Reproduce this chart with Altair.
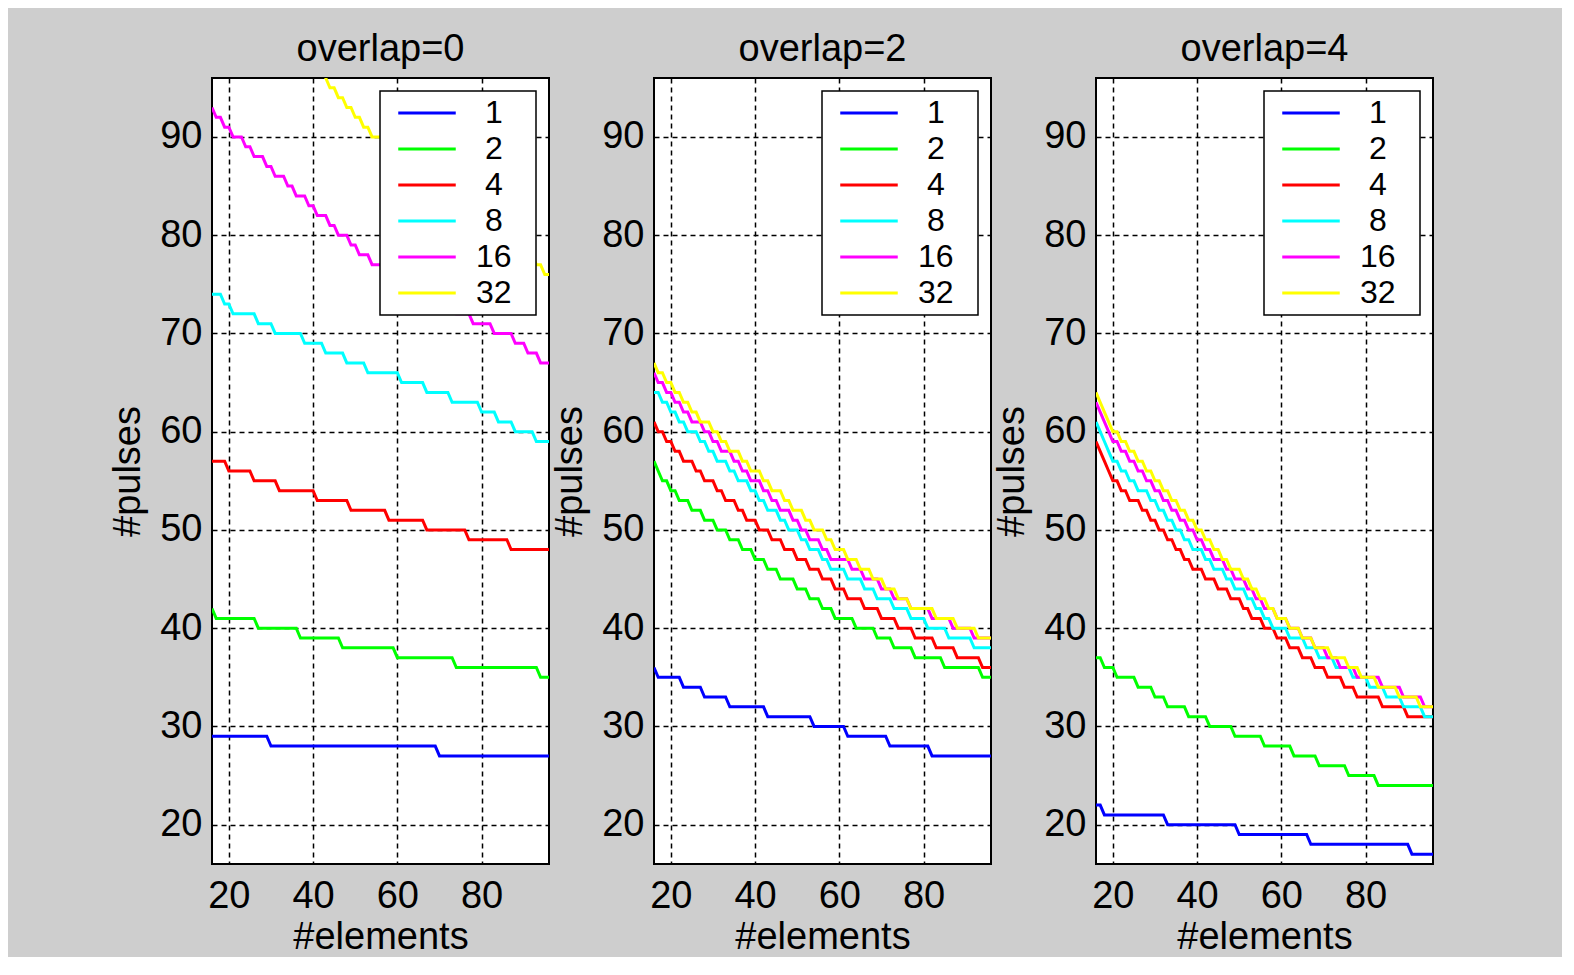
import altair as alt
import pandas as pd

# x range (#elements) and series names
X_FIRST, X_LAST = 16, 96
series_names = ["1", "2", "4", "8", "16", "32"]
series_colors = ["#0000ff", "#00ff00", "#ff0000", "#00ffff", "#ff00ff", "#ffff00"]
panel_titles = ["overlap=0", "overlap=2", "overlap=4"]
y_ticks = [20, 30, 40, 50, 60, 70, 80, 90]
x_ticks = [20, 40, 60, 80]

# Each series: #pulses at x=16 and the #elements values where it steps down by 1
# overlap = 0
ov0_start = [29, 42, 57, 74, 93, 110]
ov0_drops_1 = [30, 70]
ov0_drops_2 = [17, 27, 37, 47, 60, 74, 94]
ov0_drops_4 = [20, 26, 32, 41, 49, 58, 67, 77, 87]
ov0_drops_8 = [19, 21, 27, 31, 38, 43, 48, 53, 61, 67, 73, 80, 84, 88, 93]
ov0_drops_16 = [17, 19, 21, 24, 26, 29, 31, 34, 36, 39, 41, 44, 46, 49, 51, 54,
                58, 62, 66, 70, 74, 78, 83, 88, 91, 94]
ov0_drops_32 = [17, 19, 21, 23, 25, 27, 29, 31, 33, 35, 37, 39, 41, 43,
                44, 46, 48, 50, 52, 54, 57, 60, 63, 66, 69, 72, 75, 78,
                81, 84, 87, 90, 93, 95]

# overlap = 2
ov2_start = [36, 57, 61, 64, 66, 67]
ov2_drops_1 = [17, 23, 28, 34, 43, 54, 62, 72, 82]
ov2_drops_2 = [17, 18, 20, 22, 25, 28, 31, 34, 37, 40, 43, 46, 50, 53, 56, 59,
               64, 69, 73, 78, 85, 94]
ov2_drops_4 = [17, 19, 21, 23, 26, 28, 31, 33, 36, 38, 41, 44, 47, 50, 53, 56, 59,
               62, 66, 70, 74, 78, 83, 88, 94]
ov2_drops_8 = [18, 20, 22, 24, 27, 29, 31, 34, 36, 39, 41, 43, 46, 48, 51, 53, 56, 58,
               62, 66, 69, 73, 77, 81, 86, 92]
ov2_drops_16 = [17, 19, 21, 23, 25, 28, 30, 32, 35, 37, 39, 42, 44, 46, 49, 51, 53, 56, 58,
                63, 66, 70, 73, 77, 82, 87, 92]
ov2_drops_32 = [17, 19, 21, 23, 25, 27, 30, 32, 34, 37, 39, 42, 44, 47, 49, 52, 54, 57, 59,
                62, 65, 68, 71, 74, 77, 83, 88, 93]

# overlap = 4
ov4_start = [22, 37, 59, 61, 63, 64]
ov4_drops_1 = [18, 33, 50, 67, 91]
ov4_drops_2 = [18, 21, 26, 30, 33, 38, 43, 49, 56, 63, 69, 76, 83]
ov4_drops_4 = [17, 18, 19, 20, 22, 24, 27, 29, 31, 33, 35, 37, 39, 42, 45, 48, 51, 53, 56, 59,
               62, 65, 68, 71, 75, 78, 84, 90]
ov4_drops_8 = [17, 18, 19, 20, 22, 24, 26, 29, 31, 33, 35, 37, 39, 42, 44, 47, 49, 52, 54, 56, 58,
               62, 66, 69, 73, 77, 81, 85, 89, 94]
ov4_drops_16 = [17, 18, 19, 20, 22, 24, 26, 28, 30, 32, 34, 36, 38, 40, 42, 44, 47, 49, 52, 54, 56, 59,
                62, 65, 68, 71, 74, 78, 84, 89, 94]
ov4_drops_32 = [17, 18, 19, 20, 22, 24, 26, 28, 30, 32, 34, 36, 38, 40, 42, 44, 46, 48, 51, 53, 55, 57, 59,
                62, 65, 68, 72, 76, 79, 83, 88, 93]

panels = [
    (ov0_start, [ov0_drops_1, ov0_drops_2, ov0_drops_4, ov0_drops_8, ov0_drops_16, ov0_drops_32]),
    (ov2_start, [ov2_drops_1, ov2_drops_2, ov2_drops_4, ov2_drops_8, ov2_drops_16, ov2_drops_32]),
    (ov4_start, [ov4_drops_1, ov4_drops_2, ov4_drops_4, ov4_drops_8, ov4_drops_16, ov4_drops_32]),
]


def build_frame(starts, drops_list):
    rows = []
    for name, start, drops in zip(series_names, starts, drops_list):
        for x in range(X_FIRST, X_LAST + 1):
            y = start - sum(1 for d in drops if d <= x)
            rows.append({"elements": x, "pulses": y, "series": name})
    return pd.DataFrame(rows)


FONT = "Liberation Sans"
NB = "\u00a0"  # no-break space (width of a normal space)
ZW = "\u200b"  # zero-width space, keeps the padding from being trimmed
label_expr = ("(length(datum.label) < 2 ? '" + ZW + NB + "' + datum.label : datum.label) + '"
              + NB + NB + ZW + "'")


def make_panel(df, title):
    return (
        alt.Chart(df)
        .mark_line(clip=True, strokeWidth=3)
        .encode(
            x=alt.X(
                "elements:Q",
                scale=alt.Scale(domain=[16, 96], nice=False, zero=False),
                axis=alt.Axis(values=x_ticks, title="#elements", labelPadding=13,
                              titlePadding=3),
            ),
            y=alt.Y(
                "pulses:Q",
                scale=alt.Scale(domain=[16, 96], nice=False, zero=False),
                axis=alt.Axis(values=y_ticks, title="#pulses", labelPadding=10,
                              titlePadding=12),
            ),
            color=alt.Color(
                "series:N",
                scale=alt.Scale(domain=series_names, range=series_colors),
                legend=alt.Legend(
                    title=None,
                    orient="top-right",
                    offset=13,
                    fillColor="white",
                    strokeColor="black",
                    padding=6,
                    symbolType="M-2.5,0H2.5",
                    symbolSize=529,
                    symbolStrokeWidth=3,
                    symbolOffset=25,
                    labelOffset=33,
                    labelFontSize=32,
                    labelFont=FONT,
                    labelColor="black",
                    rowPadding=4,
                    labelExpr=label_expr,
                ),
            ),
        )
        .properties(
            width=337,
            height=786,
            title=alt.TitleParams(title, fontSize=38, font=FONT, fontWeight="normal",
                                  color="black", offset=9),
        )
    )


charts = [make_panel(build_frame(s, d), t) for (s, d), t in zip(panels, panel_titles)]

chart = (
    alt.hconcat(*charts, spacing=0)
    .resolve_scale(color="independent")
    .properties(
        background="#cecece",
        padding={"left": 100, "top": 22, "right": 128, "bottom": 0},
    )
    .configure_view(stroke="black", strokeWidth=2, fill="white")
    .configure_axis(
        grid=True,
        gridColor="black",
        gridDash=[5, 4],
        gridWidth=1.5,
        gridOpacity=1,
        domain=False,
        ticks=False,
        tickSize=0,
        labelFont=FONT,
        labelFontSize=38,
        labelColor="black",
        titleFont=FONT,
        titleFontSize=38,
        titleFontWeight="normal",
        titleColor="black",
    )
    .configure_legend(strokeWidth=1.5, cornerRadius=0, symbolOpacity=1)
)

chart.save("out.html", embed_options={"renderer": "svg", "actions": False})
